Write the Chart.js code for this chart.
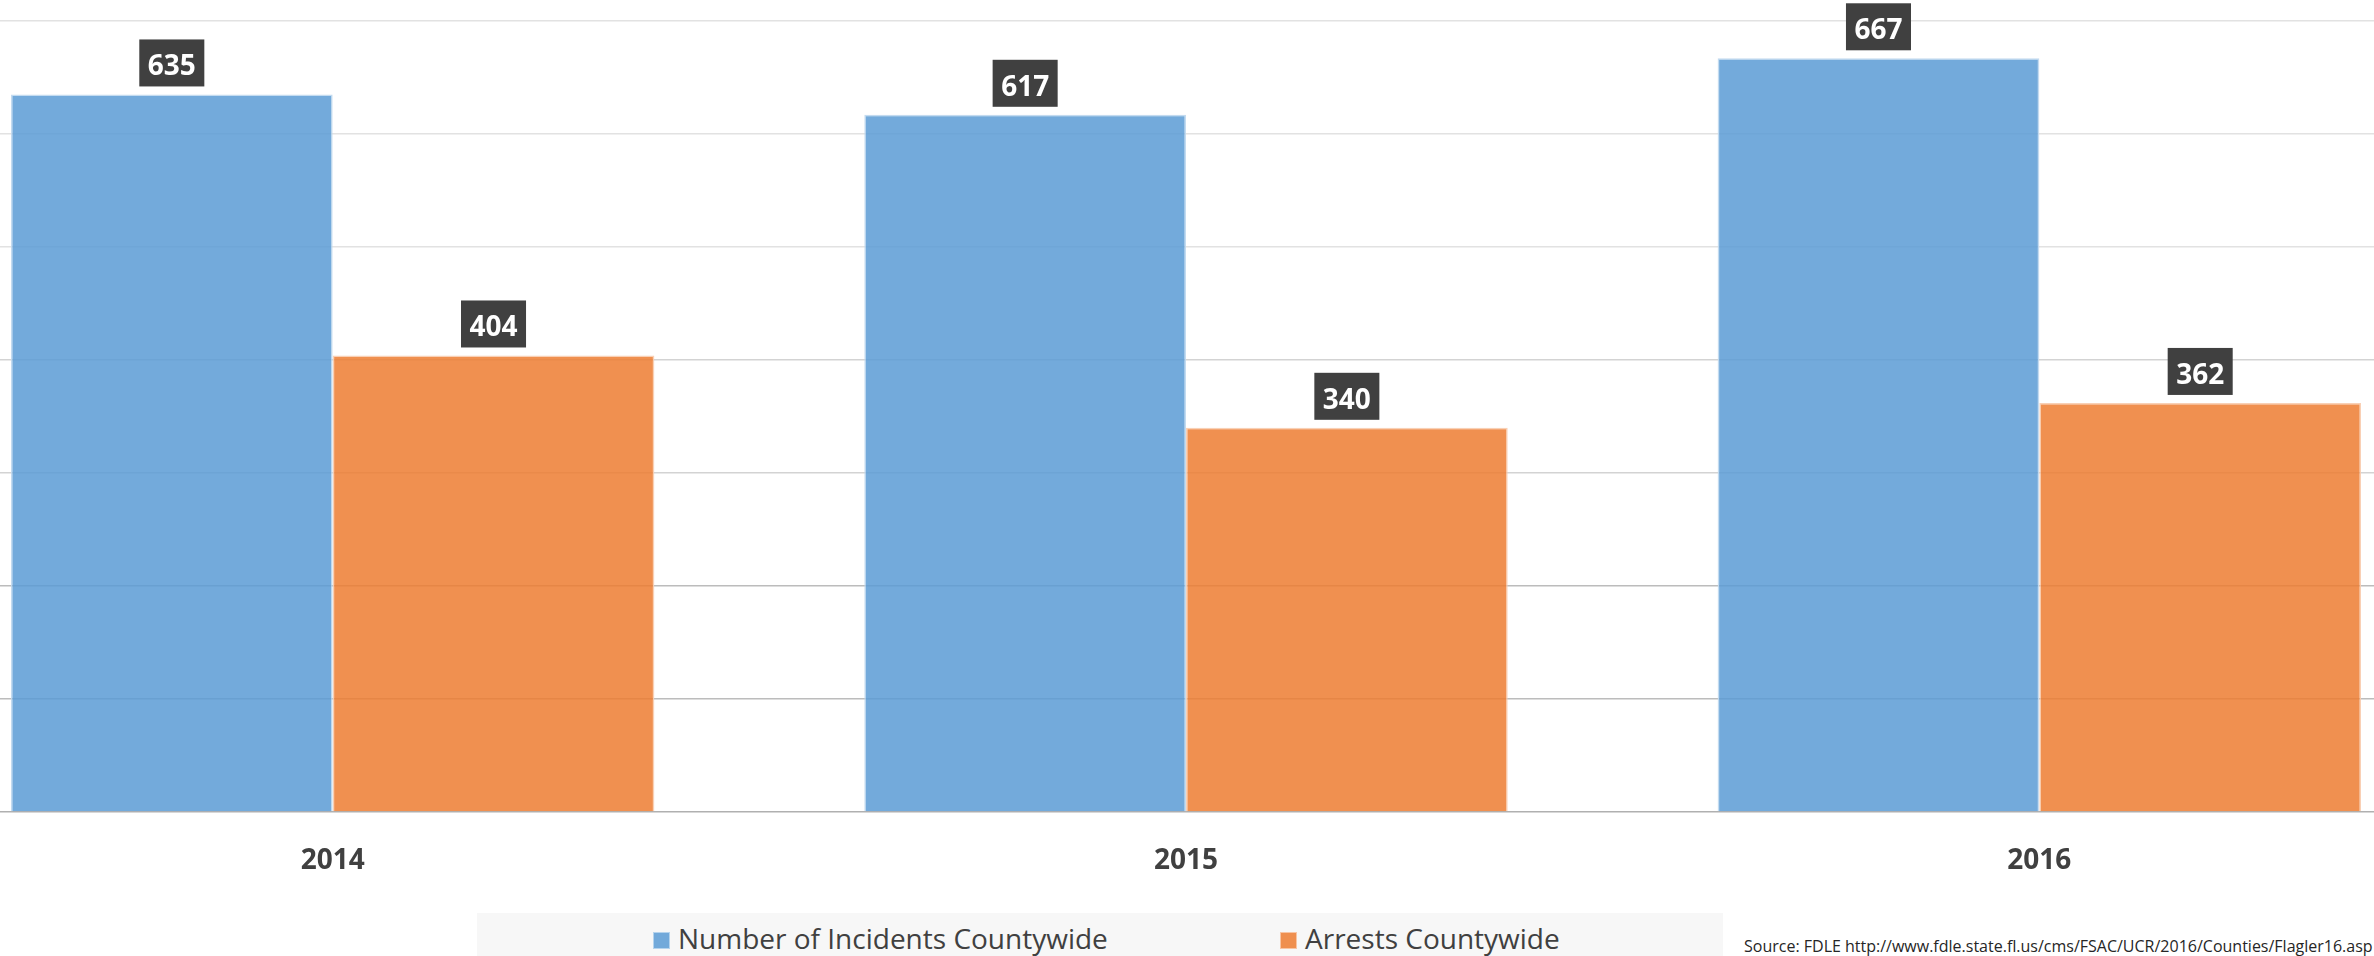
<!DOCTYPE html>
<html lang="en">
<head>
    <meta charset="UTF-8">
    <title>Incidents and Arrests Countywide</title>
    <script src="https://cdn.jsdelivr.net/npm/chart.js"></script>
    <style>
        html, body { margin: 0; padding: 0; background: #fff; }
        body { width: 2374px; height: 956px; overflow: hidden; position: relative; font-family: "Open Sans", sans-serif; }
        #chartWrap { position: absolute; left: -94px; top: 0; width: 2560px; height: 870px; }
        #legend { position: absolute; left: 477px; top: 913px; width: 1246px; height: 60px; background: #f7f7f7; }
        .legend-box { position: absolute; top: 19px; width: 15px; height: 15px; border: 1px solid; }
        .legend-text { position: absolute; top: 6px; font-size: 28px; line-height: 38px; color: #404040; white-space: nowrap; }
        #source { position: absolute; left: 1744px; top: 936px; font-size: 16px; line-height: 20px; color: #262626; white-space: nowrap; }
    </style>
</head>
<body>
    <div id="chartWrap"><canvas id="chart" width="2560" height="870"></canvas></div>
    <div id="legend"></div>
    <div id="source">Source: FDLE http://www.fdle.state.fl.us/cms/FSAC/UCR/2016/Counties/Flagler16.asp</div>

    <script>
        // data
        const years = ['2014', '2015', '2016'];
        const seriesNames = ['Number of Incidents Countywide', 'Arrests Countywide'];
        const incidents = [635, 617, 667];
        const arrests = [404, 340, 362];
        const yTicks = [0, 100, 200, 300, 400, 500, 600, 700];

        const fills = ['rgba(91, 155, 213, 0.85)', 'rgba(237, 125, 49, 0.85)'];
        const edges = ['rgba(189, 215, 238, 0.9)', 'rgba(248, 203, 173, 0.9)'];

        // legend is html, placed like the original
        const legendX = [176, 803];
        const legend = document.getElementById('legend');
        seriesNames.forEach((name, i) => {
            const box = document.createElement('div');
            box.className = 'legend-box';
            box.style.left = legendX[i] + 'px';
            box.style.background = fills[i];
            box.style.borderColor = edges[i];
            const txt = document.createElement('div');
            txt.className = 'legend-text';
            txt.style.left = (legendX[i] + 25) + 'px';
            txt.textContent = name;
            legend.appendChild(box);
            legend.appendChild(txt);
        });

        // dark value boxes above each bar
        const valueLabels = {
            id: 'valueLabels',
            afterDatasetsDraw(chart) {
                const ctx = chart.ctx;
                ctx.save();
                ctx.font = 'bold 28px "Open Sans"';
                ctx.textAlign = 'center';
                ctx.textBaseline = 'alphabetic';
                chart.data.datasets.forEach((ds, i) => {
                    chart.getDatasetMeta(i).data.forEach((bar, j) => {
                        const text = String(ds.data[j]);
                        const w = ctx.measureText(text).width + 17;
                        const bottom = bar.y - 8;
                        ctx.fillStyle = '#404040';
                        ctx.fillRect(bar.x - w / 2, bottom - 47, w, 47);
                        ctx.fillStyle = '#fff';
                        ctx.fillText(text, bar.x, bottom - 11);
                    });
                });
                ctx.restore();
            }
        };

        function gridColor(c) {
            const v = c.tick.value;
            if (v >= 500) return '#e2e2e2';
            if (v >= 300) return '#d3d3d3';
            if (v >= 100) return '#bcbcbc';
            return '#b0b0b0';
        }

        new Chart(document.getElementById('chart'), {
            type: 'bar',
            data: {
                labels: years,
                datasets: [
                    { label: seriesNames[0], data: incidents, backgroundColor: fills[0], borderColor: edges[0], borderWidth: 1.5 },
                    { label: seriesNames[1], data: arrests, backgroundColor: fills[1], borderColor: edges[1], borderWidth: 1.5 }
                ]
            },
            options: {
                responsive: false,
                animation: false,
                datasets: { bar: { categoryPercentage: 0.754, barPercentage: 1 } },
                layout: { padding: { top: 21, left: 0, right: 0, bottom: 0 } },
                plugins: {
                    legend: { display: false },
                    tooltip: { enabled: false }
                },
                scales: {
                    x: {
                        offset: true,
                        grid: { display: false },
                        border: { display: false },
                        ticks: {
                            color: '#404040',
                            padding: 24,
                            font: { family: '"Open Sans"', size: 28, weight: 'bold' }
                        },
                        afterFit(scale) { scale.height = 58; }
                    },
                    y: {
                        min: yTicks[0],
                        max: yTicks[yTicks.length - 1],
                        afterBuildTicks(scale) { scale.ticks = yTicks.map(v => ({ value: v })); },
                        ticks: { display: false },
                        border: { display: false },
                        grid: { drawTicks: false, color: gridColor, lineWidth: 1.5 }
                    }
                }
            },
            plugins: [valueLabels]
        });
    </script>
</body>
</html>
